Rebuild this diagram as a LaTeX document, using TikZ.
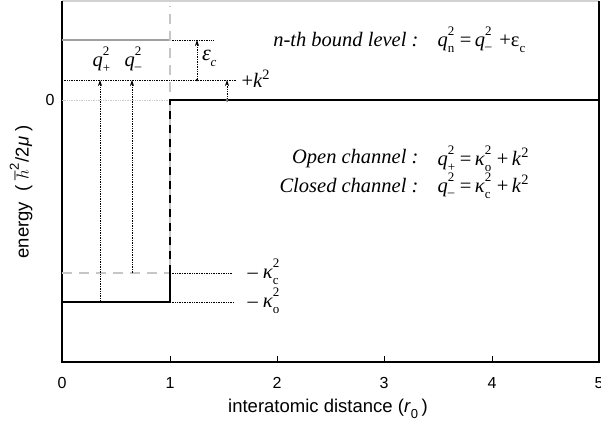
\documentclass[tikz,border=0pt]{standalone}
\usepackage{fontspec}
\setmainfont{Liberation Serif}
\setsansfont{Liberation Sans}
\usetikzlibrary{arrows.meta}
\newcommand{\SupSub}[3]{#1\makebox[0.42em][l]{\rlap{\raisebox{0.52em}{\fontsize{13}{13}\selectfont #2}}\raisebox{-0.3em}{\fontsize{13}{13}\selectfont #3}}}
\newcommand{\Mn}{\raisebox{0.2em}{–}}
\begin{document}
\begin{tikzpicture}[x=1pt,y=-1pt,
  tick/.style={font=\sffamily\fontsize{16}{18}\selectfont},
  axlab/.style={font=\sffamily\fontsize{18.5}{20}\selectfont},
  mlab/.style={font=\rmfamily\fontsize{20.5}{23}\selectfont},
  dotl/.style={densely dotted, line width=0.7pt},
  potl/.style={line width=2.4pt},
  arr/.style={dotl, -{Stealth[length=6pt,width=4pt]}},
]
\useasboundingbox (0,0) rectangle (601,428);
% frame
\draw[gray!35, line width=1.5pt] (62,1) -- (599,1);
\draw[line width=1.2pt] (62,1) -- (62,362) -- (599,362) -- (599,1);
\foreach \x in {170,277,384,492} \draw[line width=0.8pt] (\x,362) -- (\x,356);
\draw[gray!50, line width=0.6pt] (62,100) -- (66,100);
\foreach \x/\l in {62/0,170/1,277/2,384/3,492/4,599/5}
  \node[tick] (t\l) at (\x,383) {\l};
\node[tick] (y0) at (50,100) {0};
\node[axlab] (xl) at (328,409) {interatomic distance (\SupSub{\textit{r}}{}{0}\,)};
\node[axlab, rotate=90] (yl) at (22,192) {energy\ \ ( \SupSub{$\hbar$}{2}{}/2\textit{μ} )};
% reference lines
\draw[gray!40, dotl] (62,100) -- (170,100);
\coordinate (k0) at (62,80);
\coordinate (k1) at (236,80);
\draw[dotl] (k0) -- (k1);
\coordinate (b1) at (170,40);
\coordinate (b2) at (213,40);
\draw[dotl] (b1) -- (b2);
\draw[gray!75, line width=1.5pt] (62,40) -- (b1);
\coordinate (kc0) at (170,273);
\coordinate (kc1) at (232,273);
\coordinate (ko0) at (170,302);
\coordinate (ko1) at (234,302);
\draw[dotl] (kc0) -- (kc1);
\draw[dotl] (ko0) -- (ko1);
% potentials
\draw[gray!45, potl, dash pattern=on 10pt off 7pt] (62,273) -- (170,273) -- (170,6);
\draw[gray!45, potl] (170,273) -- (170,100);
\draw[potl] (62,302) -- (170,302) -- (170,273);
\draw[potl, dash pattern=on 8pt off 6pt] (170,273) -- (170,100);
\draw[potl] (168.8,100) -- (599,100);
% arrows
\coordinate (qp0) at (100,302);
\coordinate (qp1) at (100,80);
\coordinate (qm0) at (132,273);
\coordinate (qm1) at (132,80);
\draw[arr] (qp0) -- (qp1);
\draw[arr] (qm0) -- (qm1);
\coordinate (e0) at (197,80);
\coordinate (e1) at (197,40);
\fill (e0) circle (1.4pt);
\draw[arr] (e0) -- (e1);
\coordinate (kk0) at (227,100);
\coordinate (kk1) at (227,80);
\draw[arr] (kk0) -- (kk1);
\draw[fill=white, line width=0.5pt] (kk0) circle (1.4pt);
% labels
\node[mlab] (lqp) at (102,60) {\SupSub{\textit{q}}{2}{+}};
\node[mlab] (lqm) at (134,60) {\SupSub{\textit{q}}{2}{\Mn}};
\node[mlab, font=\rmfamily\fontsize{22}{24}\selectfont] (leps) at (211,58) {\SupSub{\textit{ε}}{}{\textit{c}}};
\node[mlab, anchor=west] (lk) at (238,79) {+\textit{k}\textsuperscript{2}};
\node[mlab, anchor=west] (lkc) at (244,272) {– \SupSub{\textit{κ}}{2}{c}};
\node[mlab, anchor=west] (lko) at (244,301) {– \SupSub{\textit{κ}}{2}{o}};
\node[mlab, anchor=east] (n1) at (422,40) {\textit{n-th bound level :}};
\node[mlab, anchor=west] (n2) at (434,40) {\SupSub{\textit{q}}{2}{n}\,=\,\SupSub{\textit{q}}{2}{\Mn}\;+ε\raisebox{-0.3em}{\fontsize{13}{13}\selectfont c}};
\node[mlab, anchor=east] (o1) at (422,159) {\textit{Open channel :}};
\node[mlab, anchor=west] (o2) at (434,159) {\SupSub{\textit{q}}{2}{+}\,=\,\SupSub{\textit{κ}}{2}{o}\,+\,\textit{k}\textsuperscript{2}};
\node[mlab, anchor=east] (c1) at (422,186) {\textit{Closed channel :}};
\node[mlab, anchor=west] (c2) at (434,186) {\SupSub{\textit{q}}{2}{\Mn}\,=\,\SupSub{\textit{κ}}{2}{c}\,+\,\textit{k}\textsuperscript{2}};
\end{tikzpicture}
\end{document}
